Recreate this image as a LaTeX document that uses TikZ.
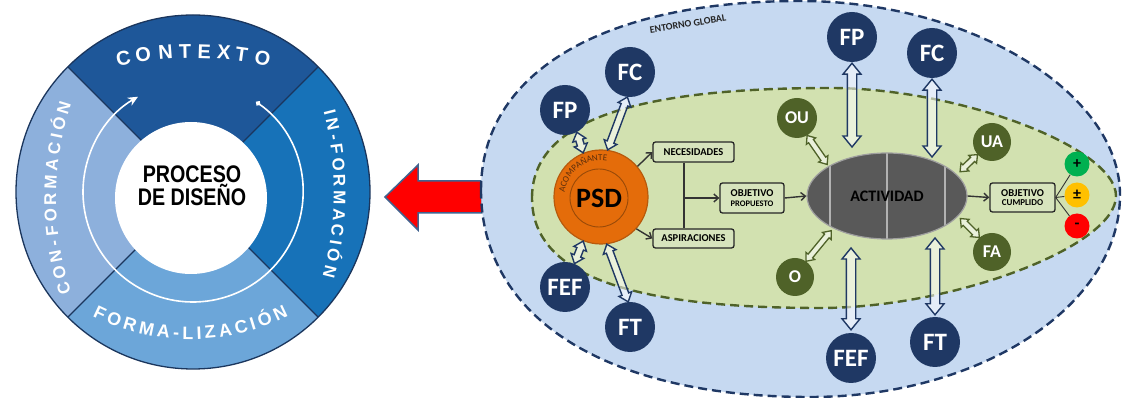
\documentclass[tikz,border=0pt]{standalone}
\usepackage{graphicx}
\usepackage{fontspec}
\setmainfont{Carlito}
\newfontfamily\arialfont{Liberation Sans}
\usetikzlibrary{arrows.meta,calc,decorations.text,shapes.geometric}

\definecolor{navy}{HTML}{1F3864}
\definecolor{olive}{HTML}{4F6228}
\definecolor{skyfill}{HTML}{C6D9F1}
\definecolor{leaffill}{HTML}{D2E1B0}
\definecolor{boxfill}{HTML}{D7E4BD}
\definecolor{ringA}{HTML}{1E5799}
\definecolor{ringB}{HTML}{1772B8}
\definecolor{ringC}{HTML}{6CA6D9}
\definecolor{ringD}{HTML}{8DB0DC}
\definecolor{ringline}{HTML}{1B365D}
\definecolor{psdorange}{HTML}{E46C0A}
\definecolor{psdedge}{HTML}{B85A0C}
\definecolor{psdring}{HTML}{9A4A08}
\definecolor{psdtext}{HTML}{5C2E0A}
\definecolor{actgray}{HTML}{595959}
\definecolor{pluscol}{HTML}{00B050}
\definecolor{pmcol}{HTML}{FFC000}
\definecolor{minuscol}{HTML}{FF0000}
\definecolor{arrowedge}{HTML}{41638F}

% hollow two-headed block arrow between two points
% #1 style, #2 size factor, #3 start, #4 end, #5 gap at start, #6 gap at end
\newcommand{\twoway}[6]{%
  \draw[#1] let \p1=#3, \p2=#4,
      \n1={atan2(\y2-\y1,\x2-\x1)},
      \n2={veclen(\x2-\x1,\y2-\y1)-#6},
      \n3={#5}, \n4={\n2-11*#2}, \n5={#5+11*#2},
      \n6={9*#2}, \n7={4.7*#2}
    in ($(\p1)+(\n1:\n3)$)
    -- ($(\p1)+(\n1:\n5)+({\n1+90}:\n6)$)
    -- ($(\p1)+(\n1:\n5)+({\n1+90}:\n7)$)
    -- ($(\p1)+(\n1:\n4)+({\n1+90}:\n7)$)
    -- ($(\p1)+(\n1:\n4)+({\n1+90}:\n6)$)
    -- ($(\p1)+(\n1:\n2)$)
    -- ($(\p1)+(\n1:\n4)+({\n1-90}:\n6)$)
    -- ($(\p1)+(\n1:\n4)+({\n1-90}:\n7)$)
    -- ($(\p1)+(\n1:\n5)+({\n1-90}:\n7)$)
    -- ($(\p1)+(\n1:\n5)+({\n1-90}:\n6)$)
    -- cycle;}

\begin{document}
\begin{tikzpicture}[x=1pt,y=1pt,
  ringlet/.style 2 args={text=white, inner sep=0pt,
    font=\arialfont\bfseries\fontsize{#1}{#1}\selectfont, text height=#2, text depth=0pt},
  navyball/.style={circle, fill=navy, text=white, inner sep=0pt, minimum size=50pt,
    font=\bfseries\fontsize{25}{25}\selectfont},
  oliveball/.style={circle, fill=olive, text=white, inner sep=0pt, minimum size=38pt,
    font=\bfseries\fontsize{18}{18}\selectfont},
  resultball/.style={circle, fill=#1, inner sep=0pt, minimum size=25pt,
    font=\bfseries\fontsize{16}{16}\selectfont},
  stepbox/.style={rectangle, rounded corners=2.5pt, draw=black!85, line width=1.3pt,
    fill=boxfill, inner sep=0pt, align=center, font=\bfseries\fontsize{10.5}{11}\selectfont},
  conn/.style={draw=black!80, line width=1.4pt, -{Straight Barb[length=4.5pt,width=8pt]}},
  link/.style={draw=black!80, line width=1.4pt},
  fanline/.style={draw=black!80, line width=0.9pt},
  navytwo/.style={draw=navy, line width=1.4pt, fill=white, fill opacity=0.55, line join=miter},
  olivetwo/.style={draw=olive, line width=1.3pt, fill=white, fill opacity=0.55, line join=miter},
  outerzone/.style={fill=skyfill, draw=navy, line width=2.4pt, dash pattern=on 9pt off 5pt},
  greenzone/.style={fill=leaffill, draw=olive, line width=2.4pt, dash pattern=on 9pt off 5pt},
]
\useasboundingbox (0,0) rectangle (1123,398);
\fill[white] (0,0) rectangle (1123,398);

% ================= design-process ring =================
\coordinate (rc) at (193,206);
\fill[ringA] (rc) -- ++(45:177) arc (45:135:177) -- cycle;
\fill[ringB] (rc) -- ++(-45:177) arc (-45:45:177) -- cycle;
\fill[ringC] (rc) -- ++(-135:177) arc (-135:-45:177) -- cycle;
\fill[ringD] (rc) -- ++(135:177) arc (135:225:177) -- cycle;
\foreach \a in {45,135,225,315}
  \draw[ringline, line width=1.3pt] (rc) -- ++(\a:177);
\draw[ringline, line width=1.3pt] (rc) circle (177);
\node[circle, fill=white, minimum size=152pt, inner sep=0pt] (hub) at (191,200) {};

% cycle arrow
\draw[white, line width=1.6pt, {Circle[length=5pt]}-{Stealth[length=10pt,width=9pt]}]
  ($(rc)+(55:110)$) arc (55:-240:110);

% segment labels, letter by letter along arcs
\foreach \ch/\ang [count=\i] in {C/101.36,O/98.09,N/94.46,T/91.28,E/88.19,X/85.0,T/82.09,O/78.64}
  \node[ringlet={20}{14.3pt}, rotate=\ang-90] (ctx\i) at ($(193,-7)+(\ang:354)$) {\ch};
\foreach \ch/\ang [count=\i] in {I/14.17,N/12.00,-/9.76,F/7.67,O/4.92,R/2.00,M/-1.00,A/-4.00,C/-6.83,I/-9.00,Ó/-11.26,N/-14.17}
  \node[ringlet={17}{12.2pt}, rotate=\ang-90] (inf\i) at ($(15,206)+(\ang:325)$) {\ch};
\foreach \ch/\ang [count=\i] in {C/197.06,O/193.95,N/190.85,-/188.44,F/186.21,O/183.28,R/180.18,M/176.98,A/173.79,C/170.77,I/168.45,Ó/166.04,N/162.98}
  \node[ringlet={17}{12.2pt}, rotate=\ang-90] (con\i) at ($(359,200)+(\ang:309)$) {\ch};
\foreach \ch/\ang [count=\i] in {F/244.87,O/249.10,R/253.6,M/258.24,A/262.87,-/266.29,L/269.43,I/272.44,Z/275.44,A/279.57,C/283.93,I/287.21,Ó/290.6,N/295.13}
  \node[ringlet={18}{12.9pt}, rotate=\ang+90] (frm\i) at ($(190,277)+(\ang:212)$) {\ch};

\node[font=\arialfont\bfseries\fontsize{24}{20.5}\selectfont, align=center, inner sep=0pt]
  (hubtext) at (192,212) {\scalebox{0.82}[1]{PROCESO}\\\scalebox{0.82}[1]{DE DISEÑO}};

% ================= big red arrow =================
\filldraw[fill=red, draw=arrowedge, line width=1.5pt, line join=miter]
  (385,201) -- (418,233) -- (418,217) -- (482,217) -- (482,185) -- (418,185) -- (418,168) -- cycle;

% ================= environment zones =================
\path[outerzone] (481,208) .. controls (481,325) and (602,397) .. (800,397)
  .. controls (970,397) and (1120,306) .. (1120,203)
  .. controls (1120,92) and (980.5,1) .. (810,1)
  .. controls (606,1) and (481,80) .. cycle;
\path[greenzone] (532,200) .. controls (532,274.8) and (627.4,310) .. (830,310)
  .. controls (958.7,310) and (1116,250.6) .. (1116,202)
  .. controls (1116,151.6) and (953.2,90) .. (820,90)
  .. controls (624,90) and (532,125.2) .. cycle;

\node[font=\bfseries\fontsize{10}{10}\selectfont, text=black!85, rotate=9] (env) at (688,374) {ENTORNO GLOBAL};

% ================= PSD =================
\node[circle, minimum size=94pt, inner sep=0pt, fill=psdorange, draw=psdedge, line width=1.2pt] (psd) at (601,201) {};
\node[circle, minimum size=58pt, inner sep=0pt, draw=psdring, line width=0.9pt,
  font=\bfseries\fontsize{28}{28}\selectfont] (psdcore) at (599,200) {PSD};
\path[decorate, decoration={text along path, text align=center, text color=psdtext,
  text={|\fontsize{9}{9}\selectfont|ACOMPAÑANTE}}]
  ($(psd)+(178:36.5)$) arc (178:76:36.5);

% ================= process boxes =================
\node[stepbox, minimum width=81pt, minimum height=20pt] (nec) at (693.5,246) {NECESIDADES};
\node[stepbox, minimum width=81pt, minimum height=19pt] (asp) at (693.5,159.5) {ASPIRACIONES};
\node[stepbox, minimum width=64pt, minimum height=30pt] (objp) at (752,200)
  {OBJETIVO\\[-1.5pt]{\fontsize{8.5}{9}\selectfont PROPUESTO}};
\node[ellipse, minimum width=160pt, minimum height=86pt, inner sep=0pt, fill=actgray,
  draw=gray!75, line width=1.2pt,
  path picture={\foreach \dx in {-57,0,58}
    \draw[gray!60, line width=1.2pt] ([xshift=\dx pt]path picture bounding box.north)
      -- ([xshift=\dx pt]path picture bounding box.south);},
  font=\bfseries\fontsize{16}{16}\selectfont] (act) at (887,202) {ACTIVIDAD};
\node[stepbox, minimum width=65pt, minimum height=29pt] (objc) at (1022.5,200.5)
  {OBJETIVO\\[-1.5pt]{\fontsize{9}{9}\selectfont CUMPLIDO}};

\node[resultball=pluscol] (plus) at (1077,234) {+};
\node[resultball=pmcol] (pm) at (1077,203) {±};
\node[resultball=minuscol] (minus) at (1077,172) {-};

% ================= factors =================
\node[navyball] (fpL) at (565,288) {FP};
\node[navyball] (fcL) at (630,326) {FC};
\node[navyball] (fefL) at (565,111) {FEF};
\node[navyball] (ftL) at (630,71) {FT};
\node[navyball] (fpR) at (852,361) {FP};
\node[navyball] (fcR) at (932,345) {FC};
\node[navyball] (fefR) at (851,40) {FEF};
\node[navyball] (ftR) at (935,56) {FT};

\node[oliveball, minimum size=40pt] (ou) at (797,280) {OU};
\node[oliveball] (ua) at (992,256) {UA};
\node[oliveball] (o) at (795,121) {O};
\node[oliveball] (fa) at (992,146) {FA};

% ================= flow connectors =================
\draw[conn] (psd.40) -- (nec.west);
\draw[conn] (psd.-42) -- (asp.west);
\coordinate (jt) at ($(nec.south)+(-9.5,0)$);
\draw[link] (jt) -- (jt |- asp.north);
\draw[conn] (jt |- objp.west) -- (objp.west);
\draw[conn] (objp.east) -- (act.west);
\draw[conn] (act.east) -- (objc.west);
\draw[fanline] (objc.east) -- (plus);
\draw[fanline] (objc.east) -- (pm);
\draw[fanline] (objc.east) -- (minus);

% ================= two-way exchanges =================
\twoway{navytwo}{0.75}{(fpL.-62)}{(psd.112)}{0}{0}
\twoway{navytwo}{0.75}{(fcL.264)}{(psd.82)}{0}{0}
\twoway{navytwo}{0.75}{(psd.248)}{(fefL.68)}{0}{0}
\twoway{navytwo}{0.75}{(psd.277)}{(ftL.94)}{0}{0}

\twoway{navytwo}{1}{(fpR.south)}{(fpR.south |- act.center)}{1}{49}
\twoway{navytwo}{1}{(fcR.south)}{(fcR.south |- act.center)}{1}{39}
\twoway{navytwo}{1}{(fefR.north)}{(fefR.north |- act.center)}{3}{52}
\twoway{navytwo}{1}{(ftR.north)}{(ftR.north |- act.center)}{2}{42}

\twoway{olivetwo}{0.62}{(ou.-60)}{(act.153)}{0}{2}
\twoway{olivetwo}{0.62}{(ua.221)}{(act.17)}{0}{4}
\twoway{olivetwo}{0.62}{(o.55)}{(act.211)}{0}{3}
\twoway{olivetwo}{0.62}{(act.-16)}{(fa.131)}{3}{0}
\end{tikzpicture}
\end{document}
